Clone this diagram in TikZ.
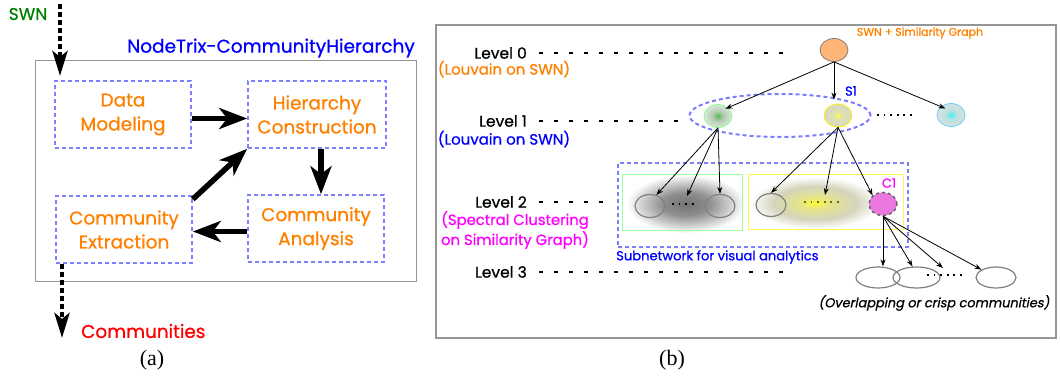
\documentclass[tikz,border=0pt]{standalone}
\usepackage{fontspec}
\setmainfont{Liberation Serif}
\newfontfamily\gf[FakeBold=0.8]{Poppins}
\newfontfamily\gfi[FakeSlant=0.2,FakeBold=0.8]{Poppins}
\usetikzlibrary{arrows.meta,shapes.geometric,calc}
\definecolor{dbl}{RGB}{125,125,255}
\definecolor{org}{RGB}{255,128,0}
\definecolor{swng}{RGB}{0,128,0}
\definecolor{mag}{RGB}{255,0,255}
\definecolor{bxg}{RGB}{150,150,150}
\definecolor{rootf}{RGB}{255,180,120}
\definecolor{pinkf}{RGB}{235,120,225}
\definecolor{oliv}{RGB}{110,110,0}
\definecolor{yb1}{RGB}{250,250,60}
\definecolor{yb2}{RGB}{228,228,140}
\definecolor{yb3}{RGB}{212,212,190}
\definecolor{gb1}{RGB}{90,185,90}
\definecolor{gb2}{RGB}{175,205,175}
\definecolor{gb3}{RGB}{225,228,225}
\definecolor{yc1}{RGB}{250,250,80}
\definecolor{yc2}{RGB}{225,225,170}
\definecolor{yc3}{RGB}{215,215,205}
\definecolor{cc1}{RGB}{60,240,240}
\definecolor{cc2}{RGB}{180,225,225}
\definecolor{cc3}{RGB}{220,225,225}
\pgfdeclareradialshading{grayblob}{\pgfpoint{0bp}{0bp}}{color(0bp)=(black!55); color(10bp)=(black!44); color(19bp)=(black!18); color(25bp)=(white); color(50bp)=(white)}
\pgfdeclareradialshading{yelblob}{\pgfpoint{0bp}{0bp}}{color(0bp)=(yb1); color(6bp)=(yb2); color(16bp)=(yb3); color(25bp)=(white); color(50bp)=(white)}
\pgfdeclareradialshading{gball}{\pgfpoint{0bp}{0bp}}{color(0bp)=(gb1); color(10bp)=(gb2); color(25bp)=(gb3); color(50bp)=(gb3)}
\pgfdeclareradialshading{yball}{\pgfpoint{0bp}{0bp}}{color(0bp)=(yc1); color(8bp)=(yc2); color(25bp)=(yc3); color(50bp)=(yc3)}
\pgfdeclareradialshading{cball}{\pgfpoint{0bp}{0bp}}{color(0bp)=(cc1); color(9bp)=(cc2); color(25bp)=(cc3); color(50bp)=(cc3)}
\begin{document}
\begin{tikzpicture}[x=1pt,y=-1pt,
  lab/.style={font=\gf\fontsize{15.5}{18}\selectfont, inner sep=0pt},
  sub/.style={font=\gf\fontsize{15}{18}\selectfont, inner sep=0pt},
  sm/.style={font=\gf\fontsize{13}{15}\selectfont, inner sep=0pt},
  proc/.style={draw=dbl, line width=1.6pt, dash pattern=on 4pt off 3pt, minimum width=136pt, minimum height=67pt, text=org, align=center, font=\gf\fontsize{18.5}{24}\selectfont, inner sep=0pt},
  big/.style={line width=5.5pt, -{Stealth[length=28pt,width=21pt,inset=8pt]}},
  dotarr/.style={line width=4.5pt, dash pattern=on 4.5pt off 3.5pt, -{Stealth[length=25pt,width=15pt,inset=6pt]}},
  thin/.style={line width=0.8pt, -{Stealth[length=7pt,width=5pt]}},
  guide/.style={line width=2.5pt, dash pattern=on 4pt off 11pt},
  dotrow/.style={line width=2pt, dash pattern=on 1.8pt off 4.8pt},
  ball/.style={ellipse, minimum width=28pt, minimum height=23pt, inner sep=0pt, line width=0.8pt},
  hollow/.style={ellipse, draw=gray, line width=1.2pt, inner sep=0pt},
  dbox/.style={draw=dbl, line width=2pt, dash pattern=on 4pt off 3pt, inner sep=0pt},
]
\useasboundingbox (0,0) rectangle (1060,380);

% ---------------- panel (a)
\node[draw=bxg, line width=1pt, minimum width=381pt, minimum height=221pt, inner sep=0pt] (boxa) at (225.5,170.5) {};
\node[anchor=east, text=blue, font=\gf\fontsize{18.5}{20}\selectfont, inner sep=0pt] (ta) at (415,48) {NodeTrix-CommunityHierarchy};
\node[text=swng, font=\gf\fontsize{17}{19}\selectfont, inner sep=0pt] (swn) at (28,14) {SWN};
\node[proc] (dm) at (123,114.5) {Data\\Modeling};
\node[proc, minimum width=138pt] (hc) at (317,114.5) {Hierarchy\\Construction};
\node[proc] (ce) at (124,229.5) {Community\\Extraction};
\node[proc] (ca) at (316,228.5) {Community\\Analysis};
\coordinate (swnA) at (60,4);
\coordinate (swnB) at (60,76);
\draw[dotarr] (swnA) -- (swnB);
\coordinate (comA) at (62,264);
\coordinate (comB) at (62,338);
\draw[dotarr] (comA) -- (comB);
\node[text=red, anchor=west, font=\gf\fontsize{18.4}{20}\selectfont, inner sep=0pt] (comm) at (81,331) {Communities};
\node[font=\fontsize{22}{24}\selectfont, inner sep=0pt] (capa) at (152,360) {(a)};
\draw[big] ($(dm.east)+(0,4)$) -- ($(hc.west)+(0,4)$);
\draw[big] ($(hc.south)+(4,0)$) -- ($(ca.north)+(5,0)$);
\draw[big] ($(ca.west)+(0,3)$) -- ($(ce.east)+(0,2)$);
\draw[big] ($(ce.north east)+(0,4)$) -- (hc.south west);

% ---------------- panel (b)
\node[draw=bxg, line width=1.2pt, minimum width=620pt, minimum height=313pt, inner sep=0pt] (boxb) at (746,181.5) {};
\node[font=\fontsize{22}{24}\selectfont, inner sep=0pt] (capb) at (672,360) {(b)};

\node[lab, anchor=east] (lv0) at (527,53) {Level 0};
\node[sub, text=org] (lv0s) at (504,69) {(Louvain on SWN)};
\node[lab, anchor=east] (lv1) at (527,121) {Level 1};
\node[sub, text=blue] (lv1s) at (504,139) {(Louvain on SWN)};
\node[lab, anchor=east] (lv2) at (527,202) {Level 2};
\node[sub, text=mag, align=center, font=\gf\fontsize{14.8}{20}\selectfont] (lv2s) at (515,230) {(Spectral Clustering\\on Similarity Graph)};
\node[lab, anchor=east] (lv3) at (527,272) {Level 3};
\coordinate (g0) at (785,53);
\coordinate (g1) at (686,121);
\coordinate (g2) at (605,202);
\coordinate (g3) at (785,272);
\draw[guide] ([xshift=12pt]lv0.east) -- (g0);
\draw[guide] ([xshift=12pt]lv1.east) -- (g1);
\draw[guide] ([xshift=12pt]lv2.east) -- (g2);
\draw[guide] ([xshift=12pt]lv3.east) -- (g3);

% level 0
\node[ball, draw=gray, fill=rootf] (root) at (834,50) {};
\node[sm, text=org, font=\gf\fontsize{11}{13}\selectfont] (rootl) at (920,33) {SWN + Similarity Graph};

% level 1
\node[ellipse, dbox, minimum width=181pt, minimum height=43pt] (s1grp) at (780,115.5) {};
\node[ball, draw=green!45, shade, shading=gball] (gb) at (718,116) {};
\node[ball, draw=yellow, shade, shading=yball] (yb) at (838,115.5) {};
\node[ball, draw=cyan!60, shade, shading=cball] (cb) at (951,115) {};
\node[sm, text=blue] (s1l) at (851,91) {S1};
\coordinate (d1a) at (877,115);
\coordinate (d1b) at (912,115);
\draw[dotrow] (d1a) -- (d1b);
\draw[thin, shorten >=-3pt] (root.south) -- (gb.north east);
\draw[thin, shorten >=4pt] (root.south) -- (root.south |- yb.north);
\draw[thin, shorten >=-5pt] (root.south) -- (cb.north west);

% level 2
\shade[shading=grayblob] (686,204) ellipse (59 and 29);
\shade[shading=yelblob] (815,203) ellipse (65 and 26);
\node[dbox, minimum width=290pt, minimum height=84pt] (sub) at (763,205) {};
\node[draw=green!40, line width=0.8pt, minimum width=120pt, minimum height=56pt, inner sep=0pt] (grect) at (682,202) {};
\node[draw=yellow!70, line width=0.8pt, minimum width=155pt, minimum height=55pt, inner sep=0pt] (yrect) at (825.5,201.5) {};
\node[hollow, minimum width=30pt, minimum height=23pt] (l2a) at (650,206) {};
\node[hollow, minimum width=30pt, minimum height=23pt] (l2b) at (720,206) {};
\node[hollow, minimum width=30pt, minimum height=23pt] (l2c) at (771,205) {};
\node[ball, fill=pinkf, draw=gray!80!black, dashed, line width=1.5pt] (c1) at (883,204) {};
\node[sm, text=mag] (c1l) at (889,183) {C1};
\coordinate (gda) at (672,204);
\coordinate (gdb) at (694,204);
\draw[dotrow] (gda) -- (gdb);
\coordinate (yda) at (804,202);
\coordinate (ydb) at (840,202);
\draw[dotrow, draw=oliv] (yda) -- (ydb);
\node[sm, text=blue, anchor=west, font=\gf\fontsize{13.1}{15}\selectfont] (subl) at (616,257) {Subnetwork for visual analytics};
\coordinate (gdt) at (687,196);
\coordinate (ydt) at (825,195);
\draw[thin] (gb.south) -- (l2a.60);
\draw[thin] (gb.south) -- (gdt);
\draw[thin] (gb.south) -- (l2b.north);
\draw[thin] (yb.south) -- (l2c.north);
\draw[thin] (yb.south) -- (ydt);
\draw[thin] (yb.south) -- (c1.north west);

% level 3
\node[hollow, minimum width=44pt, minimum height=21pt] (l3a) at (878,277.5) {};
\node[hollow, minimum width=47pt, minimum height=21pt] (l3b) at (916.5,277.5) {};
\node[hollow, minimum width=40pt, minimum height=21pt] (l3c) at (996,277.5) {};
\coordinate (l3da) at (927,275);
\coordinate (l3db) at (962,275);
\draw[dotrow] (l3da) -- (l3db);
\coordinate (l3dt) at (943,268);
\draw[thin] (c1.south) -- (c1.south |- l3a.north);
\draw[thin] (c1.south) -- (l3b.110);
\draw[thin] (c1.south) -- (l3dt);
\draw[thin] (c1.south) -- (l3c.north west);
\node[font=\gfi\fontsize{12.9}{15}\selectfont, inner sep=0pt] (ovl) at (934,303) {(Overlapping or crisp communities)};
\end{tikzpicture}
\end{document}
